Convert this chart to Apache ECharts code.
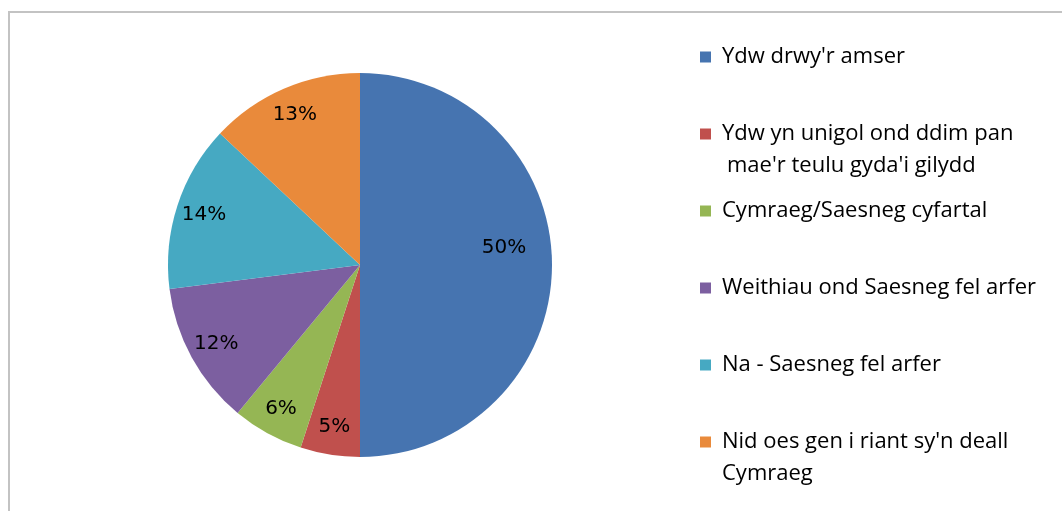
<!DOCTYPE html>
<html>
<head>
<meta charset="utf-8">
<script src="https://cdn.jsdelivr.net/npm/echarts@6/dist/echarts.min.js"></script>
<style>
  html, body { margin: 0; padding: 0; background: #fff; }
  #chart { width: 1062px; height: 511px; }
</style>
</head>
<body>
<div id="chart"></div>
<script>
// categories (first line shown in legend, continuation lines drawn below)
const categories = [
  "Ydw drwy'r amser",
  "Ydw yn unigol ond ddim pan",
  "Cymraeg/Saesneg cyfartal",
  "Weithiau ond Saesneg fel arfer",
  "Na - Saesneg fel arfer",
  "Nid oes gen i riant sy'n deall"
];
const continuation = ["", "mae'r teulu gyda'i gilydd", "", "", "", "Cymraeg"];
const values = [50, 5, 6, 12, 14, 13];
const colors = ["#4674b0", "#c0504d", "#95b654", "#7c5fa0", "#46a9c2", "#e98a3b"];

const myChart = echarts.init(document.getElementById("chart"));

const pieData = categories.map((name, i) => ({
  name: name,
  value: values[i],
  itemStyle: { color: colors[i] }
}));

// label-only ring so labels sit at ~0.84 of the radius
const labelData = categories.map((name, i) => {
  const item = { name: name, value: values[i] };
  if (i === 0) {
    item.label = { offset: [-20, -17] };
  }
  return item;
});

const legendFont = "Open Sans";
const legendSize = 22;

const option = {
  animation: false,
  graphic: [
    {
      type: "rect",
      shape: { x: 9, y: 12, width: 1070, height: 520 },
      style: { fill: "none", stroke: "#c3c3c3", lineWidth: 2 },
      silent: true
    },
    {
      type: "text",
      left: 727,
      top: 155,
      style: { text: continuation[1], font: legendSize + "px " + legendFont, fill: "#000" }
    },
    {
      type: "text",
      left: 722,
      top: 463,
      style: { text: continuation[5], font: legendSize + "px " + legendFont, fill: "#000" }
    }
  ],
  legend: {
    orient: "vertical",
    left: 695,
    top: 41,
    itemWidth: 11,
    itemHeight: 11,
    itemGap: 55,
    icon: "rect",
    selectedMode: false,
    data: categories,
    textStyle: {
      fontFamily: legendFont,
      fontSize: legendSize,
      color: "#000",
      padding: [0, 0, 0, 6]
    }
  },
  series: [
    {
      type: "pie",
      center: [360, 265],
      radius: [0, 192],
      startAngle: 90,
      clockwise: true,
      label: { show: false },
      labelLine: { show: false },
      data: pieData
    },
    {
      type: "pie",
      center: [360, 265],
      radius: [130, 192],
      startAngle: 90,
      clockwise: true,
      silent: true,
      legendHoverLink: false,
      itemStyle: { color: "rgba(0,0,0,0)" },
      label: {
        show: true,
        position: "inside",
        formatter: "{c}%",
        fontFamily: "DejaVu Sans",
        fontSize: 20,
        color: "#000"
      },
      labelLine: { show: false },
      data: labelData
    }
  ]
};

myChart.setOption(option);
</script>
</body>
</html>
